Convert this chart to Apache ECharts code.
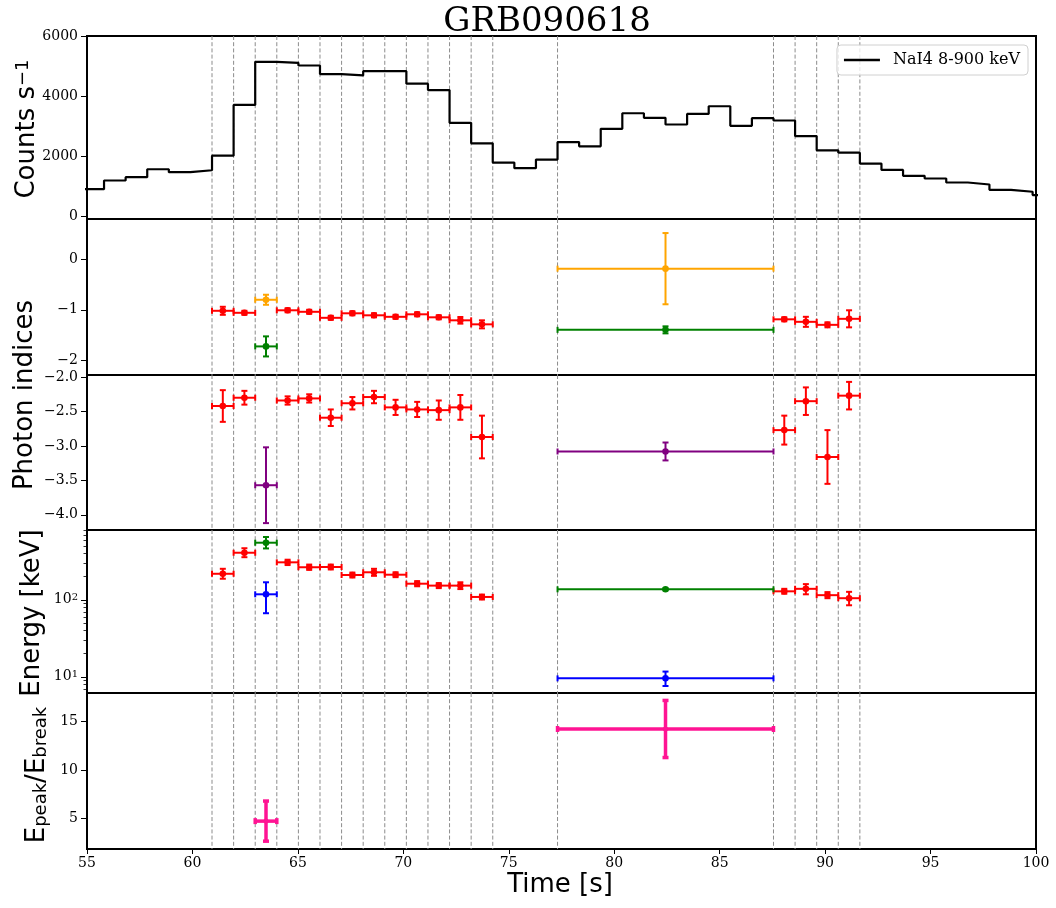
<!DOCTYPE html>
<html>
<head>
<meta charset="utf-8">
<title>GRB090618</title>
<script src="https://cdn.jsdelivr.net/npm/echarts@6/dist/echarts.min.js"></script>
<style>
  html, body { margin: 0; padding: 0; background: #fff; }
  #main { width: 1056px; height: 908px; }
</style>
</head>
<body>
<div id="main"></div>
<script>
// spectral interval edges (dashed lines), seconds
var binEdges = [60.928, 61.952, 62.976, 64.0, 65.024, 66.048, 67.072, 68.096, 69.12, 70.144,
  71.168, 72.192, 73.216, 74.24, 77.312, 87.552, 88.576, 89.6, 90.624, 91.648];

// light curve, NaI4 8-900 keV, 1.024 s bins
var lcStart = [54.784, 55.808, 56.832, 57.856, 58.88, 59.904, 60.928, 61.952, 62.976, 64.0,
  65.024, 66.048, 67.072, 68.096, 69.12, 70.144, 71.168, 72.192, 73.216, 74.24,
  75.264, 76.288, 77.312, 78.336, 79.36, 80.384, 81.408, 82.432, 83.456, 84.48,
  85.504, 86.528, 87.552, 88.576, 89.6, 90.624, 91.648, 92.672, 93.696, 94.72,
  95.744, 96.768, 97.792, 98.816, 99.84];
var lcEnd = 100.864;
var lcRate = [904, 1191, 1301, 1566, 1467, 1533, 2018, 3706, 5140, 5107,
  5019, 4732, 4688, 4831, 4831, 4412, 4202, 3110, 2427, 1787,
  1600, 1886, 2471, 2327, 2912, 3430, 3276, 3055, 3408, 3662,
  3011, 3265, 3188, 2669, 2195, 2118, 1754, 1544, 1346, 1257,
  1125, 1059, 882, 816, 706];

// single component (red) intervals
var redStart = [60.928, 61.952, 64.0, 65.024, 66.048, 67.072, 68.096, 69.12, 70.144, 71.168, 72.192, 73.216,
  87.552, 88.576, 89.6, 90.624];
var redStop = [61.952, 62.976, 65.024, 66.048, 67.072, 68.096, 69.12, 70.144, 71.168, 72.192, 73.216, 74.24,
  88.576, 89.6, 90.624, 91.648];
var redAlpha = [-1.02, -1.06, -1.01, -1.04, -1.16, -1.07, -1.11, -1.14, -1.09, -1.15, -1.21, -1.29,
  -1.19, -1.24, -1.30, -1.18];
var redAlphaErr = [0.08, 0.04, 0.04, 0.04, 0.04, 0.04, 0.04, 0.04, 0.04, 0.04, 0.066, 0.08,
  0.04, 0.1, 0.05, 0.17];
var redBeta = [-2.42, -2.30, -2.34, -2.31, -2.59, -2.38, -2.29, -2.44, -2.47, -2.48, -2.44, -2.87,
  -2.77, -2.35, -3.16, -2.27];
var redBetaErr = [0.23, 0.1, 0.06, 0.06, 0.12, 0.09, 0.09, 0.11, 0.11, 0.14, 0.18, 0.31,
  0.21, 0.2, 0.39, 0.2];
var redEpeak = [218, 409, 307, 265, 267, 210, 228, 212, 162, 153, 153, 109, 129, 139, 115, 105];
var redEpeakLo = [188, 358, 283, 245, 248, 195, 205, 197, 150, 142, 138, 101, 120, 118, 105, 85];
var redEpeakHi = [253, 468, 332, 287, 287, 226, 253, 228, 175, 165, 169, 117, 139, 160, 126, 127];

// two component intervals
var twoStart = [62.976, 77.312];
var twoStop = [64.0, 87.552];
var orangeIdx = [-0.80, -0.18];
var orangeErr = [0.1, 0.71];
var greenIdx = [-1.73, -1.40];
var greenErr = [0.2, 0.07];
var purpleIdx = [-3.57, -3.08];
var purpleErr = [0.55, 0.13];
var greenE = [552, 137];
var greenELo = [465, 133];
var greenEHi = [655, 141];
var blueE = [118, 9.55];
var blueELo = [67, 7.6];
var blueEHi = [169, 11.7];
var ratio = [4.69, 14.24];
var ratioErr = [2.08, 2.96];

var countTicks = [0, 2000, 4000, 6000];
var alphaTicks = [-2, -1, 0];
var betaTicks = [-4.0, -3.5, -3.0, -2.5, -2.0];
var energyTicks = [10, 100];
var energyMinor = [7, 8, 9, 20, 30, 40, 50, 60, 70, 80, 90, 200, 300, 400, 500, 600, 700, 800];
var ratioTicks = [5, 10, 15];

var myChart = echarts.init(document.getElementById('main'));

var serif = 'DejaVu Serif';
var sans = 'DejaVu Sans';

function lin(start, stop, v, elo, ehi) {
  return start.map(function (s, i) {
    return [(s + stop[i]) / 2, v[i], s, stop[i], v[i] - elo[i], v[i] + ehi[i]];
  });
}
function logd(start, stop, v, lo, hi) {
  return start.map(function (s, i) {
    return [(s + stop[i]) / 2, Math.log10(v[i]), s, stop[i], Math.log10(lo[i]), Math.log10(hi[i])];
  });
}

function errorBars(idx, data, color, lw, r) {
  return {
    type: 'custom', xAxisIndex: idx[0], yAxisIndex: idx[1], z: 5, silent: true,
    data: data,
    renderItem: function (params, api) {
      var c = api.coord([api.value(0), api.value(1)]);
      var l = api.coord([api.value(2), api.value(1)]);
      var rr = api.coord([api.value(3), api.value(1)]);
      var b = api.coord([api.value(0), api.value(4)]);
      var t = api.coord([api.value(0), api.value(5)]);
      var cap = 3;
      function seg(x1, y1, x2, y2) {
        return { type: 'line', shape: { x1: x1, y1: y1, x2: x2, y2: y2 }, style: { stroke: color, lineWidth: lw } };
      }
      return {
        type: 'group', children: [
          seg(l[0], c[1], rr[0], c[1]),
          seg(l[0], c[1] - cap, l[0], c[1] + cap),
          seg(rr[0], c[1] - cap, rr[0], c[1] + cap),
          seg(c[0], b[1], c[0], t[1]),
          seg(c[0] - cap, b[1], c[0] + cap, b[1]),
          seg(c[0] - cap, t[1], c[0] + cap, t[1]),
          { type: 'circle', shape: { cx: c[0], cy: c[1], r: r }, style: { fill: color } }
        ]
      };
    }
  };
}

function vlines(xi, yi) {
  return {
    type: 'custom', xAxisIndex: xi, yAxisIndex: yi, z: 1, silent: true,
    data: binEdges.map(function (e) { return [e, 0]; }),
    renderItem: function (params, api) {
      var x = api.coord([api.value(0), 0])[0];
      var cs = params.coordSys;
      return {
        type: 'line',
        shape: { x1: x, y1: cs.y, x2: x, y2: cs.y + cs.height },
        style: { stroke: '#8c8c8c', lineWidth: 1, lineDash: [4, 2.2] }
      };
    }
  };
}

var tops = [36, 219, 375, 530, 693];
var heights = [183, 156, 155, 163, 156];
var grids = tops.map(function (t, i) {
  return { left: 87, top: t, width: 949, height: heights[i], show: true,
    borderColor: '#000', borderWidth: 2, backgroundColor: 'transparent' };
});

var xAxes = grids.map(function (g, i) {
  var last = i === 4;
  return {
    type: 'value', gridIndex: i, min: 55, max: 100, interval: 5,
    axisLine: { show: false }, splitLine: { show: false },
    axisTick: { show: last, length: 5, lineStyle: { color: '#000', width: 1 } },
    axisLabel: { show: last, color: '#000', fontFamily: serif, fontSize: 14, margin: 7 }
  };
});

function yAxis(gi, min, max, ticks, fmt) {
  return {
    type: 'value', gridIndex: gi, min: min, max: max, position: 'left',
    axisLine: { show: false }, splitLine: { show: false },
    axisTick: { show: true, length: 6, customValues: ticks, lineStyle: { color: '#000', width: 1 } },
    axisLabel: { color: '#000', fontFamily: serif, fontSize: 14, margin: 9, customValues: ticks, formatter: fmt }
  };
}
function minus(v, d) {
  return (v < 0 ? '\u2212' : '') + Math.abs(v).toFixed(d);
}

var yAxes = [
  yAxis(0, -90, 6000, countTicks, function (v) { return String(v); }),
  yAxis(1, -2.3, 0.81, alphaTicks, function (v) { return minus(v, 0); }),
  yAxis(2, -4.22, -1.97, betaTicks, function (v) { return minus(v, 1); }),
  yAxis(3, 0.79, 2.907, energyTicks.map(Math.log10), function (v) {
    return '10{sup|' + Math.round(v) + '}';
  }),
  yAxis(4, 1.8, 17.97, ratioTicks, function (v) { return String(v); }),
  {
    type: 'value', gridIndex: 3, min: 0.79, max: 2.907, position: 'left',
    axisLine: { show: false }, splitLine: { show: false }, axisLabel: { show: false },
    axisTick: { show: true, length: 3.5, customValues: energyMinor.map(Math.log10),
      lineStyle: { color: '#000', width: 0.8 } }
  }
];
yAxes[3].axisLabel.lineHeight = 14;
yAxes[3].axisLabel.rich = { sup: { fontFamily: serif, fontSize: 10, lineHeight: 2, verticalAlign: 'top' } };

var lcData = lcStart.map(function (t, i) { return [t, lcRate[i]]; });
lcData.push([lcEnd, lcRate[lcRate.length - 1]]);

var series = [];
for (var g = 0; g < 5; g++) series.push(vlines(g, g));
series.push({
  name: 'NaI4 8-900 keV', type: 'line', xAxisIndex: 0, yAxisIndex: 0, step: 'end',
  data: lcData, showSymbol: false, color: '#000', z: 4,
  lineStyle: { color: '#000', width: 2.2 }
});
series.push(errorBars([1, 1], lin(redStart, redStop, redAlpha, redAlphaErr, redAlphaErr), '#ff0000', 2, 3.3));
series.push(errorBars([1, 1], lin(twoStart, twoStop, orangeIdx, orangeErr, orangeErr), '#ffa500', 2, 3.3));
series.push(errorBars([1, 1], lin(twoStart, twoStop, greenIdx, greenErr, greenErr), '#008000', 2, 3.3));
series.push(errorBars([2, 2], lin(redStart, redStop, redBeta, redBetaErr, redBetaErr), '#ff0000', 2, 3.3));
series.push(errorBars([2, 2], lin(twoStart, twoStop, purpleIdx, purpleErr, purpleErr), '#800080', 2, 3.3));
series.push(errorBars([3, 3], logd(redStart, redStop, redEpeak, redEpeakLo, redEpeakHi), '#ff0000', 2, 3.3));
series.push(errorBars([3, 3], logd(twoStart, twoStop, greenE, greenELo, greenEHi), '#008000', 2, 3.3));
series.push(errorBars([3, 3], logd(twoStart, twoStop, blueE, blueELo, blueEHi), '#0000ff', 2, 3.3));
series.push(errorBars([4, 4], lin(twoStart, twoStop, ratio, ratioErr, ratioErr), '#ff1493', 3.5, 2.5));

function vlabel(x, y, text, rich) {
  return {
    type: 'text', x: x, y: y, rotation: Math.PI / 2, silent: true,
    style: {
      text: text, fontFamily: sans, fontSize: 26, lineHeight: 26, fill: '#000',
      align: 'center', verticalAlign: 'middle', rich: rich || {}
    }
  };
}
var supRich = { sup: { fontFamily: sans, fontSize: 18, lineHeight: 4, verticalAlign: 'top' } };
var subRich = { sub: { fontFamily: sans, fontSize: 18, lineHeight: 11, verticalAlign: 'bottom' } };

var option = {
  animation: false,
  backgroundColor: '#fff',
  grid: grids,
  xAxis: xAxes,
  yAxis: yAxes,
  legend: {
    data: ['NaI4 8-900 keV'], right: 28, top: 45, orient: 'vertical',
    icon: 'rect', itemWidth: 36, itemHeight: 2.5,
    padding: [7, 8, 7, 7], borderColor: '#d0d0d0', borderWidth: 1, borderRadius: 4,
    backgroundColor: 'rgba(255,255,255,0.8)',
    textStyle: { fontFamily: serif, fontSize: 16, color: '#000', padding: [0, 0, 0, 8] }
  },
  graphic: [
    { type: 'text', x: 547, y: 22, silent: true,
      style: { text: 'GRB090618', fontFamily: serif, fontSize: 34, fill: '#000', align: 'center', verticalAlign: 'middle' } },
    vlabel(27.5, 129, 'Counts s{sup|\u22121}', supRich),
    vlabel(25, 395, 'Photon indices'),
    vlabel(32, 613, 'Energy [keV]'),
    vlabel(37, 775, 'E{sub|peak}/E{sub|break}', subRich),
    { type: 'text', x: 560, y: 885, silent: true,
      style: { text: 'Time [s]', fontFamily: sans, fontSize: 26, fill: '#000', align: 'center', verticalAlign: 'middle' } }
  ],
  series: series
};
myChart.setOption(option);
</script>
</body>
</html>
